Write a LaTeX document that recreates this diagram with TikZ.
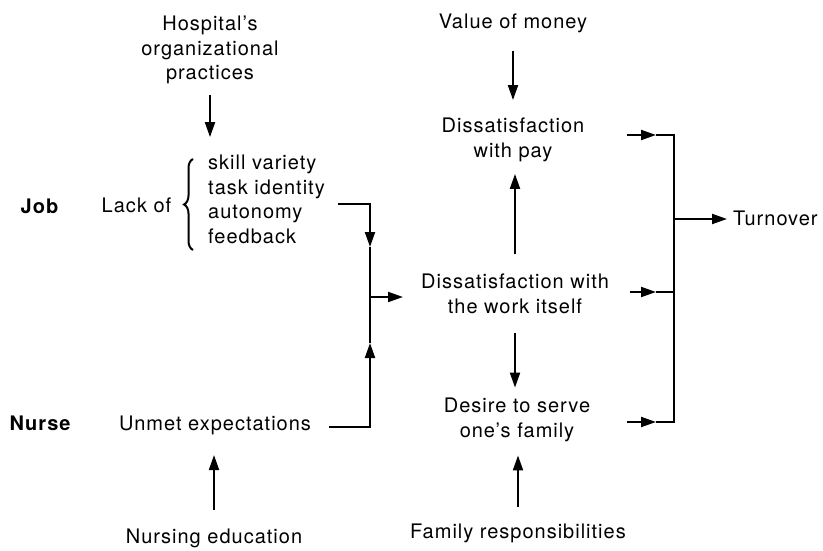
\documentclass[tikz,border=0pt]{standalone}
\usepackage{fontspec}
\setmainfont[LetterSpace=5]{TeX Gyre Heros}
\usetikzlibrary{arrows.meta,decorations.pathreplacing}
\begin{document}
\begin{tikzpicture}[x=1pt,y=-1pt,
  every node/.style={font=\fontsize{20}{24.5}\selectfont, inner sep=0pt},
  lbl/.style={anchor=base},
  boldlbl/.style={anchor=base,font=\fontsize{20}{24.5}\selectfont\bfseries},
  multi/.style={align=center},
  ln/.style={line width=2pt},
  arr/.style={ln,-{Triangle[length=15pt,width=10pt]}}]
\useasboundingbox (0,0) rectangle (823,550);

% left column
\node[multi] (hosp) at (210,50) {Hospital's\\organizational\\practices};
\node[boldlbl] (job) at (39.5,213) {Job};
\node[lbl] (lack) at (136.5,212) {Lack of};
\node[align=left,anchor=west] (list) at (208,199.5) {skill variety\\task identity\\autonomy\\feedback};
\draw[line width=2pt,decorate,decoration={brace,amplitude=9pt}] (193,250) coordinate (bb) -- (193,159) coordinate (bt);
\node[boldlbl] (nurse) at (40,430) {Nurse};
\node[lbl] (unmet) at (215,430) {Unmet expectations};
\node[lbl] (nedu) at (214,543) {Nursing education};

% middle column
\node[lbl] (money) at (513,28) {Value of money};
\node[multi] (pay) at (513,140) {Dissatisfaction\\with pay};
\node[multi] (work) at (515,294) {Dissatisfaction with\\the work itself};
\node[multi] (desire) at (517,420) {Desire to serve\\one's family};
\node[lbl] (famr) at (518,538) {Family responsibilities};

% right
\node[anchor=base west] (turn) at (733,225) {Turnover};

% vertical arrows
\draw[arr,shorten <=11pt,shorten >=18pt] (hosp.south) -- (hosp.south |- list.north);
\draw[arr,shorten <=18pt,shorten >=18pt] (money.south) -- (money.south |- pay.north);
\draw[arr,shorten <=20pt,shorten >=12pt] (work.north) -- (work.north |- pay.south);
\draw[arr,shorten <=19pt,shorten >=10.5pt] (work.south) -- (work.south |- desire.north);
\draw[arr,shorten <=16.5pt,shorten >=13.5pt] (famr.north) -- (famr.north |- desire.south);
\draw[arr,shorten <=18.5pt,shorten >=20.5pt] (nedu.north) -- (nedu.north |- unmet.south);

% left bracket
\coordinate (a1) at (338,204);
\coordinate (a2) at (370,204);
\coordinate (a3) at (370,247);
\coordinate (a4) at (370,297);
\coordinate (a5) at (370,343);
\coordinate (a6) at (370,427);
\coordinate (a7) at (329,427);
\coordinate (a8) at (403,297);
\draw[ln] (a3) -- (a5);
\draw[arr] (a1) -- (a2) -- (a3);
\draw[arr] (a7) -- (a6) -- (a5);
\draw[arr] (a4) -- (a8);

% right bracket
\coordinate (b1) at (627,135);
\coordinate (b2) at (656,135);
\coordinate (b3) at (674,135);
\coordinate (c1) at (630,292);
\coordinate (c2) at (656,292);
\coordinate (c3) at (674,292);
\coordinate (d1) at (627,422);
\coordinate (d2) at (656,422);
\coordinate (d3) at (674,422);
\coordinate (t0) at (674,219);
\draw[ln] (b2) -- (b3) -- (d3) -- (d2);
\draw[ln] (c2) -- (c3);
\draw[arr] (b1) -- (b2);
\draw[arr] (c1) -- (c2);
\draw[arr] (d1) -- (d2);
\draw[arr,shorten >=6pt] (t0) -- (turn.west |- t0);
\end{tikzpicture}
\end{document}
